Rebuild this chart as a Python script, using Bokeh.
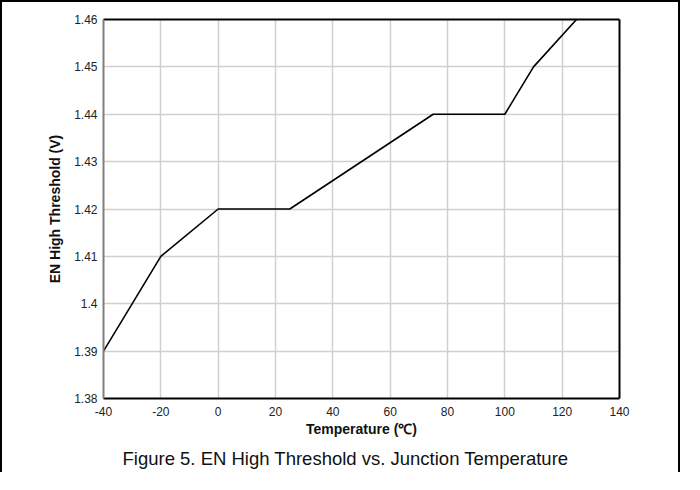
from bokeh.plotting import figure
from bokeh.models import Range1d, FixedTicker, LinearAxis, Title
from bokeh.embed import file_html
from bokeh.resources import INLINE

# Data
temperature = [-40, -20, 0, 25, 75, 100, 110, 125]
threshold = [1.39, 1.41, 1.42, 1.42, 1.44, 1.44, 1.45, 1.46]

x_ticks = [-40, -20, 0, 20, 40, 60, 80, 100, 120, 140]
x_tick_labels = ["-40", "-20", "0", "20", "40", "60", "80", "100", "120", "140"]
y_ticks = [1.38, 1.39, 1.40, 1.41, 1.42, 1.43, 1.44, 1.45, 1.46]
y_tick_labels = ["1.38", "1.39", "1.4", "1.41", "1.42", "1.43", "1.44", "1.45", "1.46"]

x_title = "Temperature (\u2103)"
y_title = "EN High Threshold (V)"
caption = "Figure 5. EN High Threshold vs. Junction Temperature"

FONT = "Liberation Sans"

p = figure(width=680, height=472, output_backend="svg", toolbar_location=None,
           x_range=Range1d(-40, 140), y_range=Range1d(1.38, 1.46),
           min_border_left=101, min_border_right=63, min_border_top=17, min_border_bottom=74,
           background_fill_color="white", border_fill_color="white")
p.title.visible = False
p.outline_line_color = None
p.styles = {"border-left": "2px solid black", "border-top": "2px solid black",
            "border-right": "2px solid black"}

# grid
p.xgrid.ticker = FixedTicker(ticks=x_ticks)
p.ygrid.ticker = FixedTicker(ticks=y_ticks)
for g in (p.xgrid[0], p.ygrid[0]):
    g.grid_line_color = "#d0d0d0"
    g.grid_line_width = 1.5

# x axis
xa = p.xaxis[0]
xa.ticker = FixedTicker(ticks=x_ticks)
xa.major_label_overrides = dict(zip(x_ticks, x_tick_labels))
xa.axis_label = x_title
xa.axis_label_text_font = FONT
xa.axis_label_text_font_style = "bold"
xa.axis_label_text_font_size = "14px"
xa.axis_label_text_color = "#111111"
xa.axis_label_standoff = 2
xa.major_label_text_font = FONT
xa.major_label_text_font_size = "12px"
xa.major_label_text_color = "#222222"
xa.major_label_standoff = 8
xa.major_tick_out = 0
xa.major_tick_in = 0
xa.minor_tick_out = 0
xa.minor_tick_in = 0
xa.axis_line_color = "black"
xa.axis_line_width = 2

# y axis
ya = p.yaxis[0]
ya.ticker = FixedTicker(ticks=y_ticks)
ya.major_label_overrides = dict(zip(y_ticks, y_tick_labels))
ya.axis_label = y_title
ya.axis_label_text_font = FONT
ya.axis_label_text_font_style = "bold"
ya.axis_label_text_font_size = "14px"
ya.axis_label_text_color = "#111111"
ya.axis_label_standoff = 8
ya.major_label_text_font = FONT
ya.major_label_text_font_size = "12px"
ya.major_label_text_color = "#222222"
ya.major_label_standoff = 6
ya.major_tick_out = 0
ya.major_tick_in = 0
ya.minor_tick_out = 0
ya.minor_tick_in = 0
ya.axis_line_color = "#7f7f7f"
ya.axis_line_width = 2

# top and right frame edges
for side in ("above", "right"):
    ax = LinearAxis(major_label_text_font_size="0px", major_tick_out=0, major_tick_in=0,
                    minor_tick_out=0, minor_tick_in=0, axis_line_color="black",
                    axis_line_width=2, ticker=FixedTicker(ticks=[]))
    p.add_layout(ax, side)

p.line(temperature, threshold, line_color="black", line_width=1.6)

p.add_layout(Title(text=caption, align="left", offset=19, standoff=12,
                   text_font=FONT, text_font_size="18.5px", text_font_style="normal",
                   text_color="#111111"), "below")

open("out.html", "w").write(file_html(p, INLINE))
